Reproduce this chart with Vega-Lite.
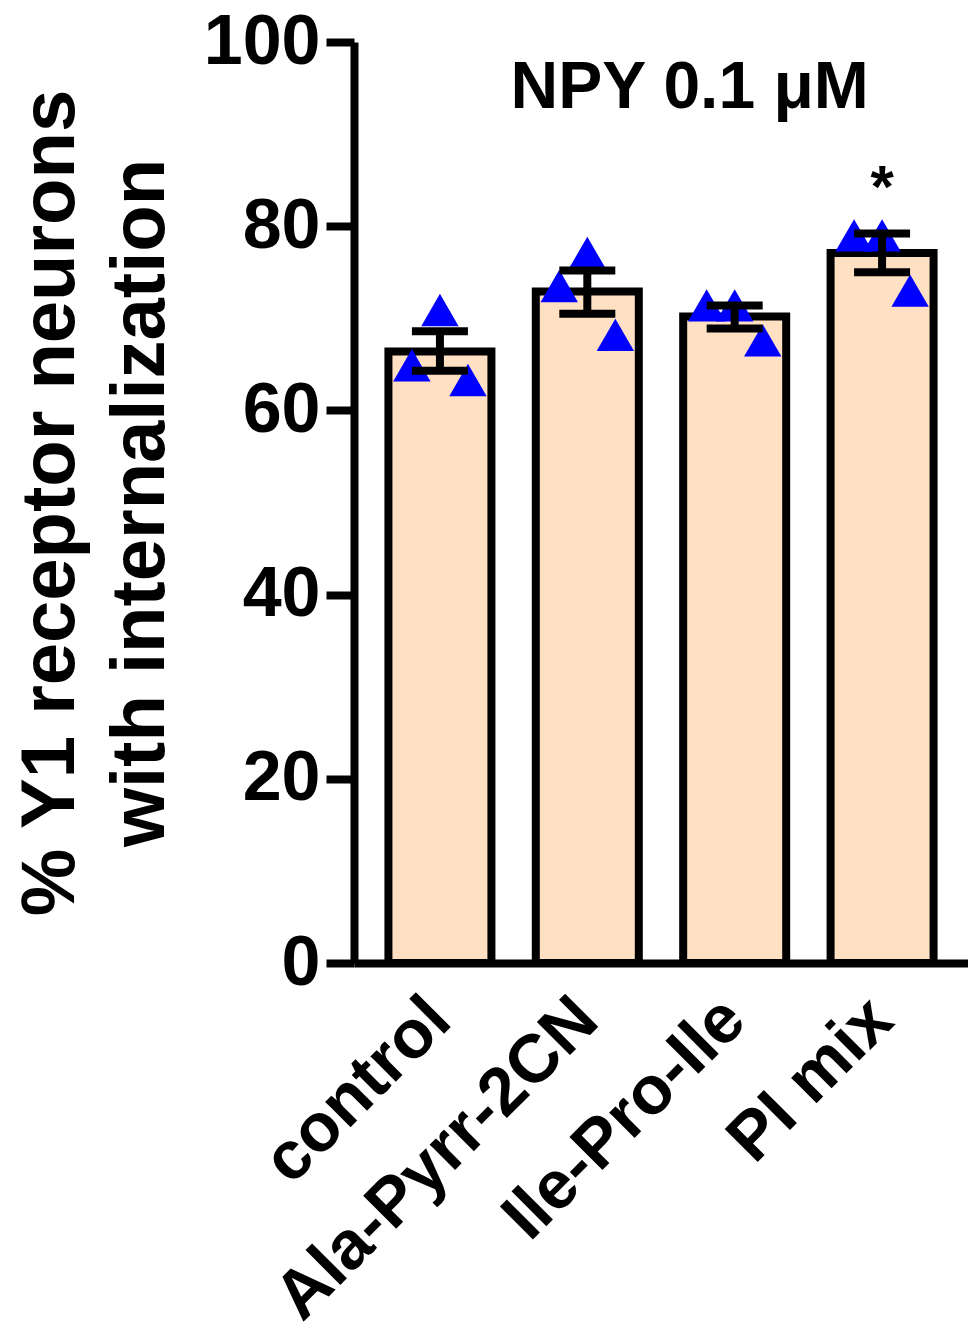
{
  "$schema": "https://vega.github.io/schema/vega-lite/v6.json",
  "autosize": "none",
  "width": 614,
  "height": 921,
  "padding": {"left": 354, "top": 42, "right": 0, "bottom": 369},
  "background": "white",
  "config": {
    "view": {"stroke": null},
    "font": "Liberation Sans"
  },
  "datasets": {
    "bars": [
      {"group": "control", "mean": 66.4, "lo": 64.3, "hi": 68.6, "star": ""},
      {"group": "Ala-Pyrr-2CN", "mean": 72.9, "lo": 70.5, "hi": 75.2, "star": ""},
      {"group": "Ile-Pro-Ile", "mean": 70.2, "lo": 68.9, "hi": 71.4, "star": ""},
      {"group": "PI mix", "mean": 77.1, "lo": 75.0, "hi": 79.2, "star": "*"}
    ],
    "points": [
      {"group": "control", "rep": 1, "value": 64.9},
      {"group": "control", "rep": 2, "value": 70.9},
      {"group": "control", "rep": 3, "value": 63.3},
      {"group": "Ala-Pyrr-2CN", "rep": 1, "value": 73.5},
      {"group": "Ala-Pyrr-2CN", "rep": 2, "value": 77.1},
      {"group": "Ala-Pyrr-2CN", "rep": 3, "value": 68.2},
      {"group": "Ile-Pro-Ile", "rep": 1, "value": 71.4},
      {"group": "Ile-Pro-Ile", "rep": 2, "value": 71.4},
      {"group": "Ile-Pro-Ile", "rep": 3, "value": 67.6},
      {"group": "PI mix", "rep": 1, "value": 79.0},
      {"group": "PI mix", "rep": 2, "value": 79.0},
      {"group": "PI mix", "rep": 3, "value": 73.0}
    ]
  },
  "encoding": {
    "x": {
      "field": "group",
      "type": "nominal",
      "sort": ["control", "Ala-Pyrr-2CN", "Ile-Pro-Ile", "PI mix"],
      "scale": {"paddingInner": 0.3, "paddingOuter": 0.233},
      "axis": {
        "title": null,
        "labelAngle": -45,
        "labelAlign": "right",
        "labelBaseline": "middle",
        "labelFont": "Liberation Sans",
        "labelFontWeight": "bold",
        "labelFontSize": 68,
        "labelColor": "black",
        "labelPadding": 46,
        "labelLimit": 0,
        "ticks": false,
        "domainColor": "black",
        "domainWidth": 8
      }
    }
  },
  "layer": [
    {
      "data": {"name": "bars"},
      "mark": {"type": "bar", "fill": "#FFE0C2", "stroke": "black", "strokeWidth": 8, "width": 103},
      "encoding": {
        "y": {
          "field": "mean",
          "type": "quantitative",
          "scale": {"domain": [0, 100], "nice": false},
          "axis": {
            "values": [0, 20, 40, 60, 80, 100],
            "title": ["% Y1 receptor neurons", "with internalization"],
            "titleFont": "Liberation Sans",
            "titleFontWeight": "bold",
            "titleFontSize": 76,
            "titleColor": "black",
            "titleLineHeight": 90,
            "titlePadding": 24,
            "labelFont": "Liberation Sans",
            "labelFontWeight": "bold",
            "labelFontSize": 70,
            "labelColor": "black",
            "labelPadding": 6,
            "tickSize": 28,
            "tickWidth": 8,
            "tickColor": "black",
            "domainColor": "black",
            "domainWidth": 8,
            "grid": false
          }
        }
      }
    },
    {
      "data": {"name": "points"},
      "mark": {"type": "point", "shape": "triangle-up", "filled": true, "color": "#0000FF", "opacity": 1, "size": 1400},
      "encoding": {
        "y": {"field": "value", "type": "quantitative"},
        "xOffset": {"field": "rep", "type": "ordinal", "scale": {"type": "point", "padding": 0.84}}
      }
    },
    {
      "data": {"name": "bars"},
      "mark": {"type": "rule", "color": "black", "strokeWidth": 8},
      "encoding": {
        "y": {"field": "lo", "type": "quantitative"},
        "y2": {"field": "hi"}
      }
    },
    {
      "data": {"name": "bars"},
      "mark": {"type": "tick", "color": "black", "thickness": 8, "size": 56, "opacity": 1},
      "encoding": {
        "y": {"field": "lo", "type": "quantitative"}
      }
    },
    {
      "data": {"name": "bars"},
      "mark": {"type": "tick", "color": "black", "thickness": 8, "size": 56, "opacity": 1},
      "encoding": {
        "y": {"field": "hi", "type": "quantitative"}
      }
    },
    {
      "data": {"name": "bars"},
      "mark": {"type": "text", "fontSize": 60, "fontWeight": "bold", "font": "Liberation Sans", "color": "black", "baseline": "middle", "dy": 0},
      "encoding": {
        "y": {"datum": 84},
        "text": {"field": "star"}
      }
    },
    {
      "data": {"values": [{}]},
      "mark": {"type": "text", "fontSize": 66, "fontWeight": "bold", "font": "Liberation Sans", "color": "black", "baseline": "middle", "align": "center", "dx": -45},
      "encoding": {
        "x": {"datum": "Ile-Pro-Ile"},
        "y": {"datum": 95},
        "text": {"value": "NPY 0.1 μM"}
      }
    }
  ]
}
